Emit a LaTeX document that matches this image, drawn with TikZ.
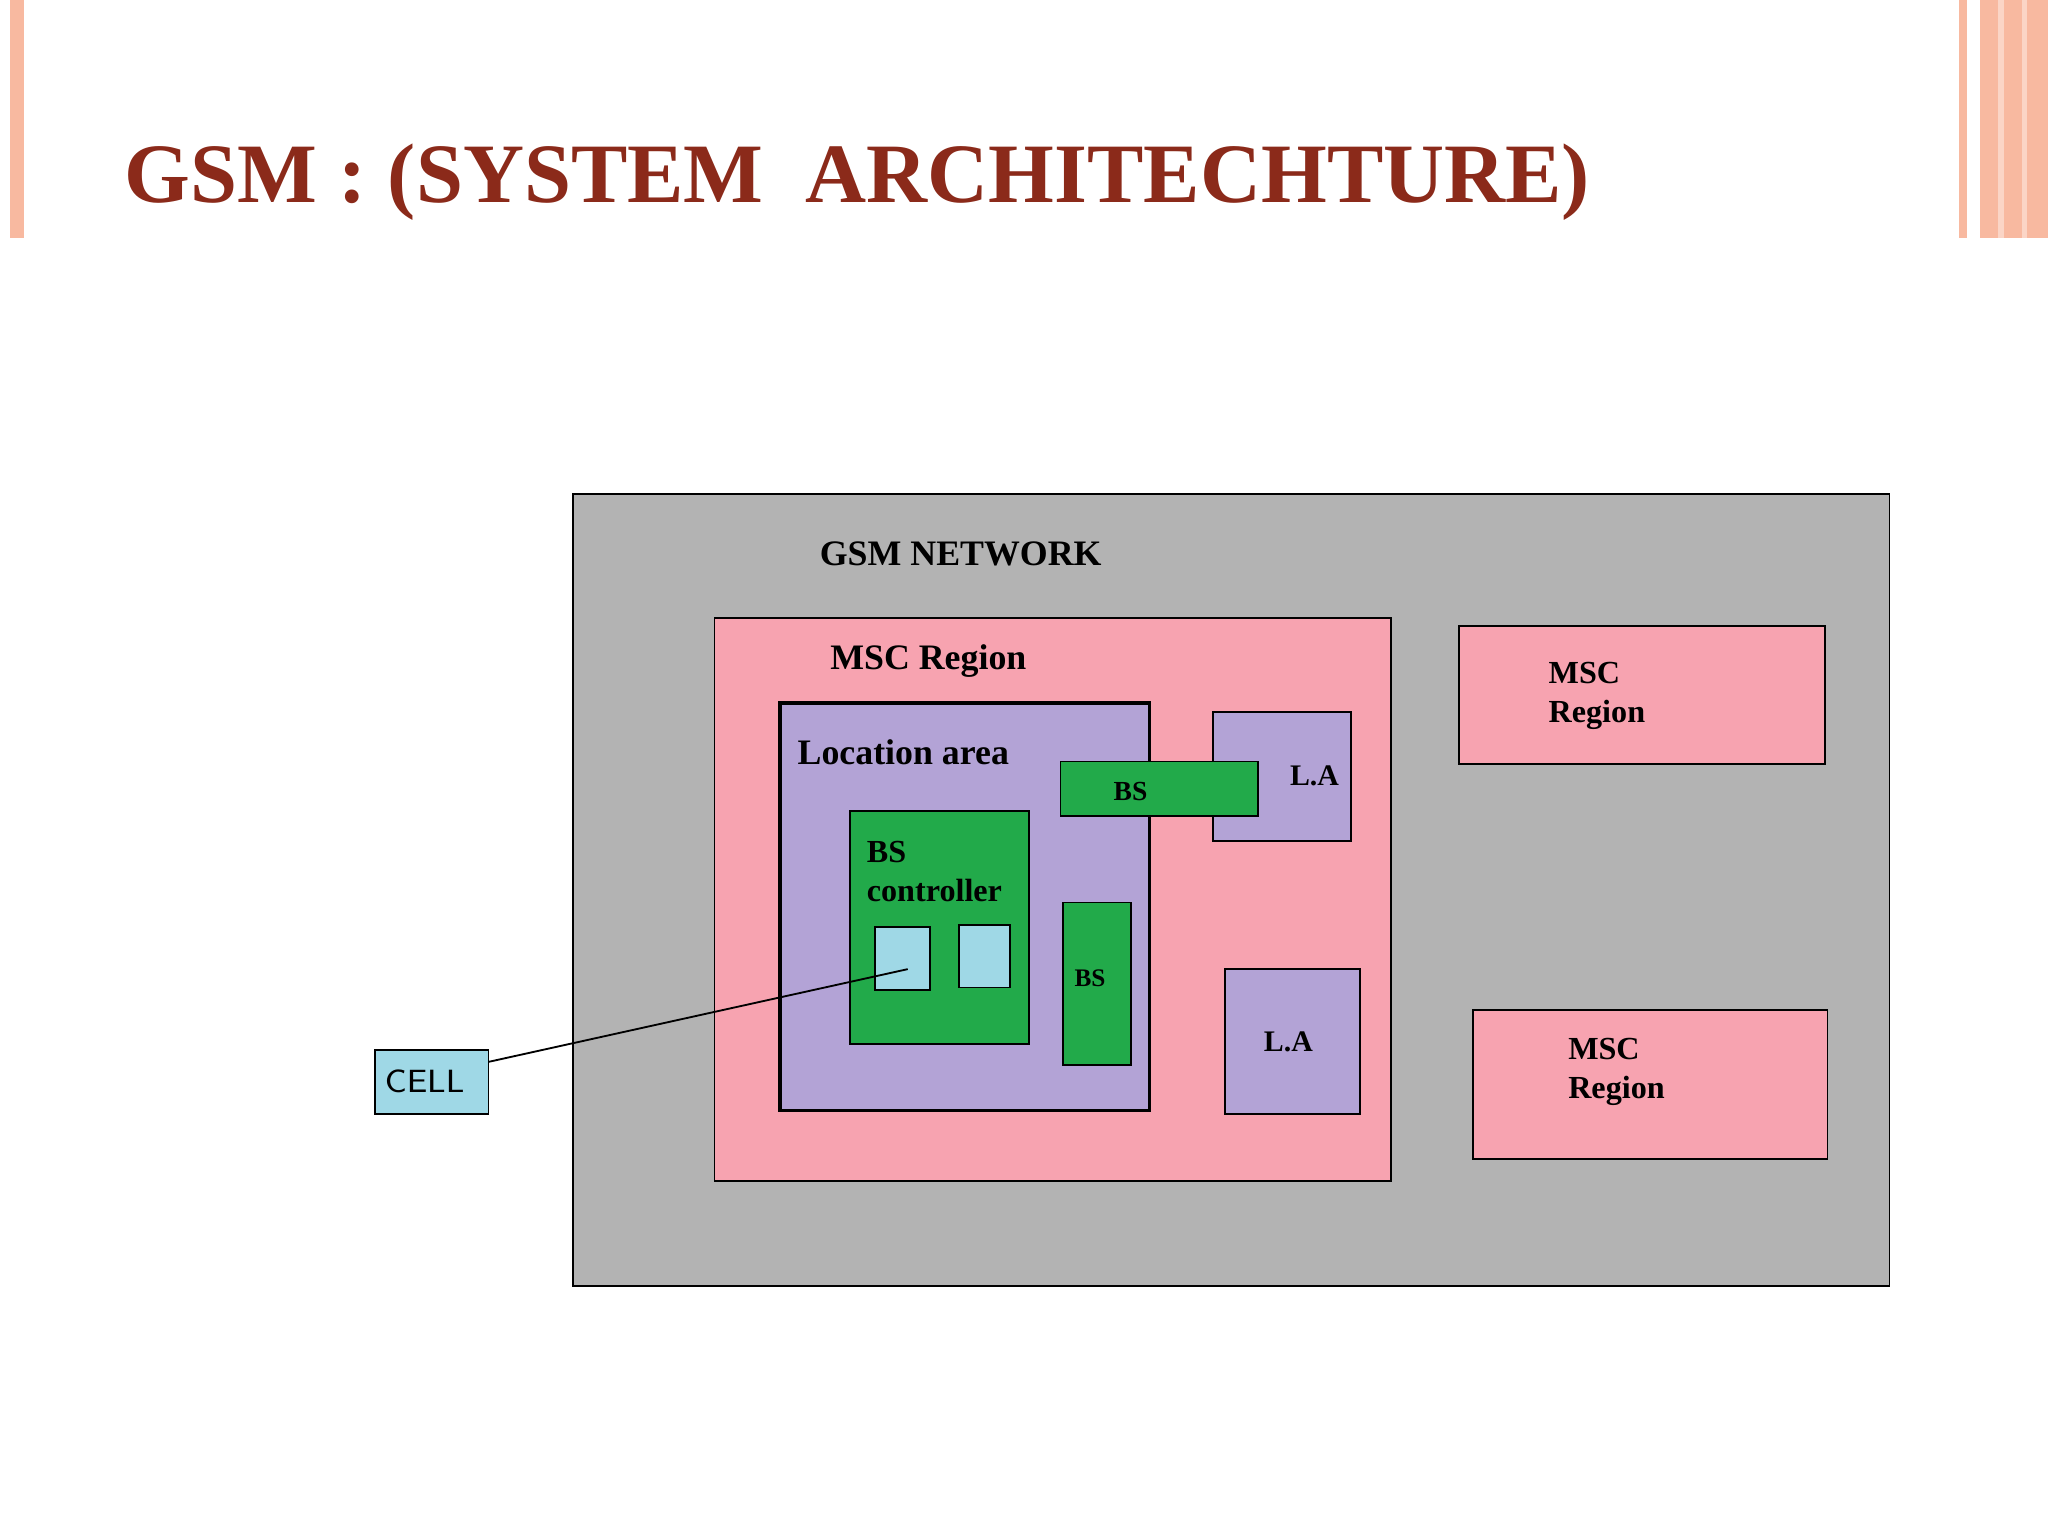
\documentclass[tikz,border=0pt]{standalone}
\usepackage{fontspec}
\setmainfont{Liberation Serif}
\definecolor{titlered}{HTML}{8B2A1A}
\definecolor{barpink}{HTML}{F8B9A0}
\definecolor{netgray}{HTML}{B3B3B3}
\definecolor{mscpink}{HTML}{F7A3B0}
\definecolor{lapurple}{HTML}{B3A3D6}
\definecolor{bsgreen}{HTML}{22AA4A}
\definecolor{cellcyan}{HTML}{9FD8E6}
\tikzset{
  box/.style={draw, inner sep=0, outer sep=0, anchor=north west},
  lbl/.style={anchor=west, inner sep=0, font=\fontsize{7.8}{9.5}\selectfont\bfseries, align=left}
}
\begin{document}
\begin{tikzpicture}[x=0.01cm, y=-0.01cm]
      \useasboundingbox (0,0) rectangle (1568,1176);
      % slide decoration
      \fill[barpink] (8,0) rectangle (18,182);
      \fill[barpink] (1500,0) rectangle (1506,182);
      \fill[barpink] (1516,0) rectangle (1568,182);
      \fill[barpink!60!white] (1530,0) rectangle (1534,182);
      \fill[barpink!60!white] (1548,0) rectangle (1552,182);
      \node[anchor=base west, inner sep=0, text=titlered, font=\fontsize{18.4}{22}\selectfont\bfseries] (T) at (95,155) {GSM : (SYSTEM\ \ ARCHITECHTURE)};

      % network
      \node[box, fill=netgray, minimum width=10.07cm, minimum height=6.06cm] (N) at (439,378) {};
      \node[lbl] (NL) at (627,424) {GSM NETWORK};

      \node[box, fill=mscpink, minimum width=5.18cm, minimum height=4.31cm] (M) at (547,473) {};
      \node[lbl] (ML) at (635,506) {MSC Region};
      \node[box, fill=mscpink, minimum width=2.80cm, minimum height=1.06cm] (M2) at (1117,479) {};
      \node[lbl, font=\fontsize{7}{8.5}\selectfont\bfseries] (M2L) at (1185,533) {MSC\\Region};
      \node[box, fill=mscpink, minimum width=2.71cm, minimum height=1.14cm] (M3) at (1128,773) {};
      \node[lbl, font=\fontsize{7}{8.5}\selectfont\bfseries] (M3L) at (1200,821) {MSC\\Region};

      % location areas
      \node[box, thick, fill=lapurple, minimum width=2.83cm, minimum height=3.12cm] (LA) at (597,538) {};
      \node[lbl] (LAL) at (610,576) {Location area};
      \node[box, fill=lapurple, minimum width=1.05cm, minimum height=0.99cm] (LA2) at (929,545) {};
      \node[lbl, font=\fontsize{6.5}{8}\selectfont\bfseries] (LA2L) at (987,594) {L.A};
      \node[box, fill=lapurple, minimum width=1.03cm, minimum height=1.11cm] (LA3) at (938,742) {};
      \node[lbl, font=\fontsize{6.5}{8}\selectfont\bfseries] (LA3L) at (967,798) {L.A};

      % base stations
      \node[box, fill=bsgreen, minimum width=1.37cm, minimum height=1.78cm] (C) at (651,621) {};
      \node[lbl, font=\fontsize{7}{8.5}\selectfont\bfseries] (CL) at (663,667) {BS\\controller};
      \node[box, fill=bsgreen, minimum width=0.52cm, minimum height=1.24cm] (B1) at (814,691) {};
      \node[lbl, font=\fontsize{5.5}{7}\selectfont\bfseries] (B1L) at (822,749) {BS};
      \node[box, fill=bsgreen, minimum width=1.51cm, minimum height=0.42cm] (B2) at (812,583) {};
      \node[lbl, font=\fontsize{6}{7}\selectfont\bfseries] (B2L) at (852,606) {BS};

      % cells
      \node[box, fill=cellcyan, minimum width=0.42cm, minimum height=0.48cm] (C1) at (670,710) {};
      \node[box, fill=cellcyan, minimum width=0.39cm, minimum height=0.48cm] (C2) at (734,708) {};
      \node[box, fill=cellcyan, minimum width=0.87cm, minimum height=0.49cm] (CE) at (287,804) {};
      \node[lbl, font=\fontsize{7}{8}\selectfont\sffamily] (CEL) at (294,828) {CELL};
      \coordinate (P) at (695,742);
      \draw (CE.east |- 0,813) -- (P);
    \end{tikzpicture}
\end{document}
